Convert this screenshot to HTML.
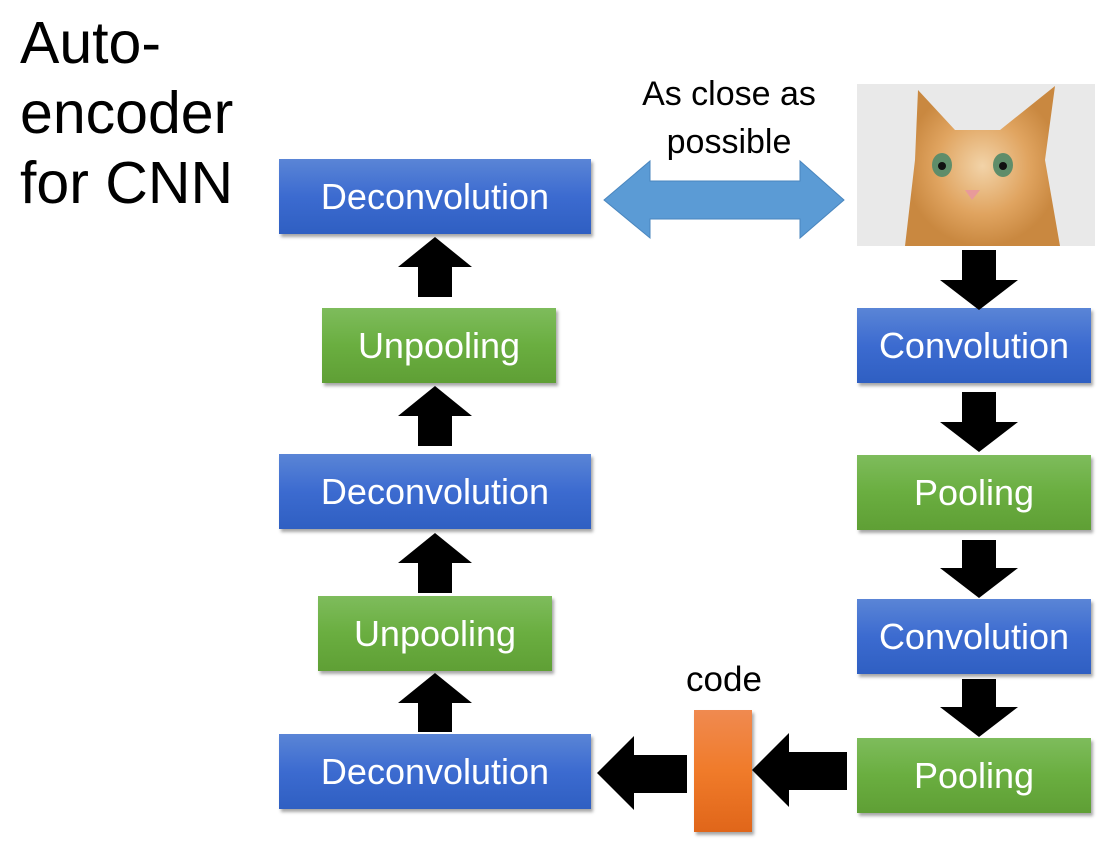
<!DOCTYPE html>
<html><head><style>
body{margin:0;width:1119px;height:843px;background:#fff;position:relative;overflow:hidden;font-family:"Liberation Sans",sans-serif}
.b{position:absolute;color:#fff;font-size:36px;display:flex;align-items:center;justify-content:center;box-shadow:2px 3px 3px rgba(0,0,0,.35)}
.blue{background:linear-gradient(#5a85d6,#3c6bd0 50%,#2f5fc2)}
.green{background:linear-gradient(#7ebc5c,#6aae40 50%,#5f9f35)}
.t{position:absolute;color:#000}
svg{position:absolute;left:0;top:0}
</style></head><body>
<div class="t" style="left:20px;top:8px;font-size:59px;line-height:70px">Auto-<br>encoder<br>for CNN</div>
<div class="t" style="left:600px;top:70px;width:258px;text-align:center;font-size:34px;line-height:48px">As close as<br>possible</div>
<div class="t" style="left:670px;top:660px;width:108px;text-align:center;font-size:35px">code</div>

<div class="b blue" style="left:279px;top:159px;width:312px;height:75px">Deconvolution</div>
<div class="b green" style="left:322px;top:308px;width:234px;height:75px">Unpooling</div>
<div class="b blue" style="left:279px;top:454px;width:312px;height:75px">Deconvolution</div>
<div class="b green" style="left:318px;top:596px;width:234px;height:75px">Unpooling</div>
<div class="b blue" style="left:279px;top:734px;width:312px;height:75px">Deconvolution</div>

<div class="b blue" style="left:857px;top:308px;width:234px;height:75px">Convolution</div>
<div class="b green" style="left:857px;top:455px;width:234px;height:75px">Pooling</div>
<div class="b blue" style="left:857px;top:599px;width:234px;height:75px">Convolution</div>
<div class="b green" style="left:857px;top:738px;width:234px;height:75px">Pooling</div>
<div class="b" style="left:694px;top:710px;width:58px;height:122px;background:linear-gradient(#f08a50,#f07b2a 50%,#e0661a)"></div>

<svg width="1119" height="843">
<defs>
<radialGradient id="fur" cx="50%" cy="50%" r="50%"><stop offset="0" stop-color="#f2d3a8"/><stop offset="0.6" stop-color="#e0a460"/><stop offset="1" stop-color="#c98840"/></radialGradient>
</defs>
<rect x="857" y="84" width="238" height="162" fill="#e9e9e9"/>
<path d="M905 246 L915 160 L918 90 L955 130 L1000 130 L1055 86 L1045 160 L1060 246 Z" fill="url(#fur)"/>
<ellipse cx="942" cy="165" rx="10" ry="12" fill="#5f8d6a"/><ellipse cx="1003" cy="165" rx="10" ry="12" fill="#5f8d6a"/>
<circle cx="942" cy="166" r="4" fill="#111"/><circle cx="1003" cy="166" r="4" fill="#111"/>
<path d="M965 190 L980 190 L972 200 Z" fill="#e89a9a"/>
<polygon points="604,200 650,161 650,181 800,181 800,161 844,200 800,238 800,219 650,219 650,238" fill="#5b9bd5" stroke="#4a86be" stroke-width="1"/>
<g fill="#000">
<polygon points="435,237 472,267 452,267 452,297 418,297 418,267 398,267"/>
<polygon points="435,386 472,416 452,416 452,446 418,446 418,416 398,416"/>
<polygon points="435,533 472,563 452,563 452,593 418,593 418,563 398,563"/>
<polygon points="435,673 472,703 452,703 452,732 418,732 418,703 398,703"/>
<polygon points="962,250 996,250 996,280 1018,280 979,310 940,280 962,280"/>
<polygon points="962,392 996,392 996,422 1018,422 979,452 940,422 962,422"/>
<polygon points="962,540 996,540 996,568 1018,568 979,598 940,568 962,568"/>
<polygon points="962,679 996,679 996,707 1018,707 979,737 940,707 962,707"/>
<polygon points="597,773 634,736 634,755 687,755 687,793 634,793 634,810"/>
<polygon points="752,770 789,733 789,752 847,752 847,790 789,790 789,807"/>
</g>
</svg>
</body></html>
